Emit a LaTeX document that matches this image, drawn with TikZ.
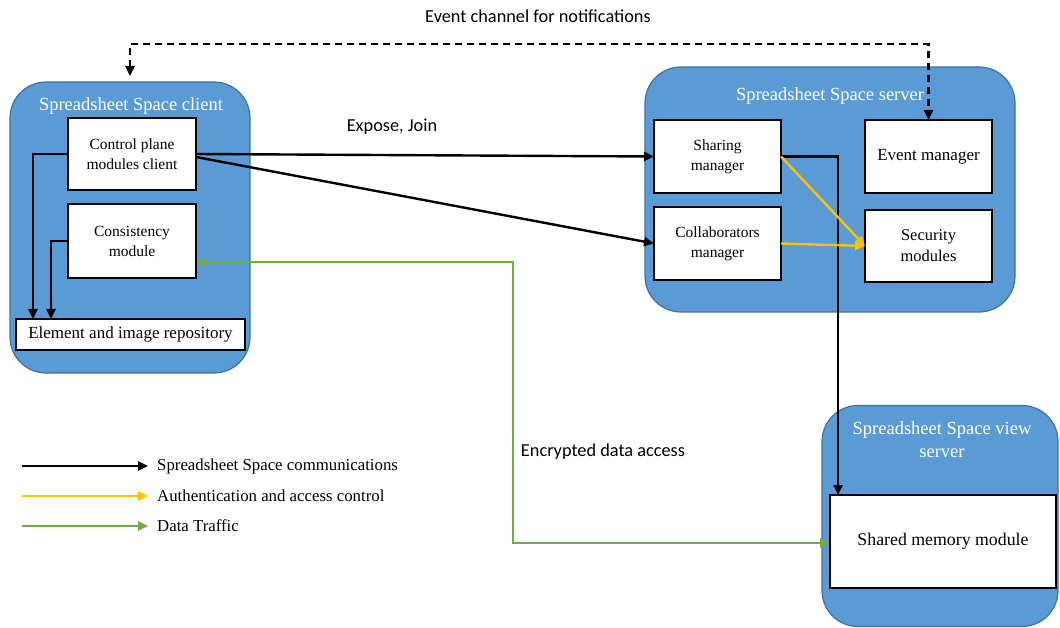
\documentclass[tikz,border=0pt]{standalone}
\usepackage{fontspec}
\setmainfont{Liberation Serif}
\newfontfamily\labelfont{Carlito}
\usetikzlibrary{arrows.meta}
\definecolor{panelblue}{HTML}{5B9BD5}
\definecolor{paneledge}{HTML}{41719C}
\definecolor{authyellow}{HTML}{FFC000}
\definecolor{datagreen}{HTML}{70AD47}
\tikzset{
  panel/.style={draw=paneledge, line width=1.2pt, fill=panelblue, rounded corners=36pt, inner sep=0pt, outer sep=0pt},
  paneltitle/.style={text=white, font=\fontsize{18.5}{23}\selectfont, align=center, inner sep=0pt},
  module/.style={draw=black, line width=1.6pt, fill=white, inner sep=0pt, outer sep=0pt, align=center, font=\fontsize{15.5}{20}\selectfont},
  tip/.style={-{Triangle[length=10pt,width=9pt]}},
  comm/.style={tip, draw=black, line width=2.4pt},
  auth/.style={tip, draw=authyellow, line width=2.4pt},
  data/.style={draw=datagreen, line width=2.4pt},
  evt/.style={draw=black, line width=2.4pt, dash pattern=on 7pt off 5pt,
    {Triangle[length=10pt,width=9pt]}-{Triangle[length=10pt,width=9pt]}},
  sanslabel/.style={font=\labelfont\fontsize{18.3}{21}\selectfont, inner sep=0pt},
  legendtext/.style={font=\fontsize{16.8}{19}\selectfont, anchor=west, inner sep=0pt},
}
\begin{document}
\begin{tikzpicture}[x=1pt, y=-1pt]
\useasboundingbox (0,0) rectangle (1060,628);

% containers
\node[panel, minimum width=240pt, minimum height=291pt] (client) at (130,227.5) {};
\node[panel, minimum width=370pt, minimum height=245pt] (server) at (830,189.5) {};
\node[panel, minimum width=236pt, minimum height=221pt] (view) at (940,516) {};

\node[paneltitle] (clientT) at (131,106) {Spreadsheet Space client};
\node[paneltitle] (serverT) at (830,96) {Spreadsheet Space server};
\node[paneltitle] (viewT) at (942,440) {Spreadsheet Space view\\server};

% client modules
\node[module, minimum width=128pt, minimum height=72pt] (cp) at (132,154) {Control plane\\modules client};
\node[module, minimum width=128pt, minimum height=74pt] (cons) at (132,241) {Consistency\\module};
\node[module, minimum width=229pt, minimum height=31pt, font=\fontsize{17}{20}\selectfont] (repo) at (130.5,334.5) {Element and image repository};

% server modules
\node[module, minimum width=127pt, minimum height=73pt] (sm) at (717.5,156.5) {Sharing\\manager};
\node[module, minimum width=127pt, minimum height=73pt] (com) at (717.5,243.5) {Collaborators\\manager};
\node[module, minimum width=127pt, minimum height=73pt, font=\fontsize{17}{20}\selectfont] (evm) at (928.5,156.5) {Event manager};
\node[module, minimum width=127pt, minimum height=72pt, font=\fontsize{16.5}{21}\selectfont] (sec) at (928.5,246) {Security\\modules};

% view server module
\node[module, minimum width=226pt, minimum height=93pt, font=\fontsize{17.8}{20}\selectfont] (shm) at (943,541.5) {Shared memory module};

% free labels
\node[sanslabel] (evlabel) at (538,16) {Event channel for notifications};
\node[sanslabel] (exlabel) at (392,127) {Expose, Join};
\node[sanslabel] (enlabel) at (603,452) {Encrypted data access};

% event channel
\coordinate (evtop) at (530,44);
\draw[evt, shorten <=6pt] (client.north) |- (evtop) -| (evm.north);

% client internal links
\draw[comm] (cp.west) -| ([xshift=17pt]repo.north west);
\draw[comm] (cons.west) -| ([xshift=35pt]repo.north west);

% client to server
\draw[comm] (cp.east) -- (sm.west);
\draw[comm] ([yshift=-3pt]cp.east) -- (com.west);

% server to view server
\draw[comm] (sm.east) -| ([xshift=8pt]shm.north west);

% authentication
\draw[auth] (sm.east) -- (sec.west);
\draw[auth] (com.east) -- (sec.west);

% data traffic
\coordinate (gtop) at (513,262);
\coordinate (gbot) at (513,543);
\draw[data, {Triangle[length=10pt,width=9pt]}-{Triangle[length=10pt,width=9pt]}]
  (cons.east |- gtop) -- (gtop) -- (gbot) -- (shm.west |- gbot);

% legend
\node[legendtext] (lg1) at (157,466) {Spreadsheet Space communications};
\node[legendtext] (lg2) at (157,496) {Authentication and access control};
\node[legendtext] (lg3) at (157,526) {Data Traffic};
\coordinate (lg1s) at (22,466);
\coordinate (lg2s) at (22,496);
\coordinate (lg3s) at (22,526);
\draw[comm, shorten >=9pt] (lg1s) -- (lg1.west);
\draw[auth, shorten >=9pt] (lg2s) -- (lg2.west);
\draw[data, tip, shorten >=9pt] (lg3s) -- (lg3.west);
\end{tikzpicture}
\end{document}
